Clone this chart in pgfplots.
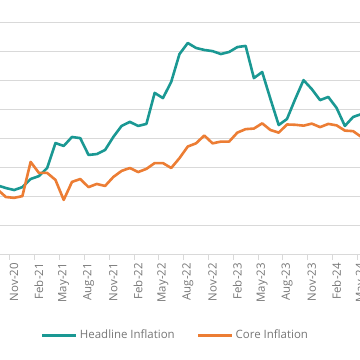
\documentclass[border=0pt]{standalone}
\usepackage{fontspec}
\setmainfont{Open Sans}
\usepackage{pgfplots}
\usepackage{pgfplotstable}
\pgfplotsset{compat=1.18}
\definecolor{teal1}{RGB}{26,152,147}
\definecolor{orange1}{RGB}{236,125,52}
\definecolor{gridc}{RGB}{217,217,217}
\definecolor{txt}{RGB}{118,118,118}
\pgfplotstableread{
i h c
-2 2.40 2.26
-1 2.31 2.00
0 2.24 1.97
1 2.34 2.03
2 2.62 3.21
3 2.72 2.83
4 3.00 2.83
5 3.86 2.59
6 3.76 1.90
7 4.07 2.52
8 4.03 2.62
9 3.45 2.34
10 3.48 2.45
11 3.62 2.38
12 4.07 2.69
13 4.45 2.90
14 4.59 3.00
15 4.45 2.86
16 4.52 2.97
17 5.59 3.17
18 5.41 3.17
19 5.97 3.00
20 6.93 3.34
21 7.31 3.74
22 7.14 3.85
23 7.07 4.12
24 7.03 3.85
25 6.93 3.91
26 7.00 3.91
27 7.17 4.22
28 7.21 4.34
29 6.10 4.36
30 6.31 4.54
31 5.38 4.31
32 4.48 4.22
33 4.69 4.50
34 5.38 4.49
35 6.03 4.46
36 5.72 4.53
37 5.34 4.41
38 5.45 4.52
39 5.07 4.47
40 4.45 4.29
41 4.76 4.27
42 4.86 4.07
}\datatable
\begin{document}
\begin{tikzpicture}
\begin{axis}[
  name=ax,
  width=360bp, height=232bp, scale only axis,
  xmin=-1.705, xmax=41.83, ymin=0, ymax=8,
  axis lines*=left,
  y axis line style={draw=none},
  x axis line style={draw=gridc, line width=1bp},
  ytick={1,...,8}, yticklabels={},
  ymajorgrids, grid style={draw=gridc, line width=1bp},
  xtick={0,3,...,39},
  xticklabels={Nov-20,Feb-21,May-21,Aug-21,Nov-21,Feb-22,May-22,Aug-22,Nov-22,Feb-23,May-23,Aug-23,Nov-23,Feb-24},
  minor xtick={-0.5,2.5,...,41.5},
  major tick length=0pt, minor tick length=5bp,
  tick align=outside,
  tick style={draw=gridc, line width=1bp},
  ytick style={draw=none},
  xticklabel style={rotate=90, anchor=east, inner xsep=8bp, font=\fontsize{11.5}{13}\selectfont, text=txt},
  legend style={at={(0.4875,-0.345)}, anchor=center, draw=none, fill=none,
    font=\fontsize{11.5}{13}\selectfont, text=txt, legend columns=2,
    /tikz/every even column/.append style={column sep=20bp}},
  legend image code/.code={\draw[#1, line width=3bp] (0bp,0bp) -- (34bp,0bp);},
  after end axis/.code={\node[rotate=90, anchor=east, inner xsep=8bp, font=\fontsize{11.5}{13}\selectfont, text=txt] at (axis cs:42,0) {May-24};},
]
\addplot[teal1, line width=2.6bp, line join=round] table[x=i, y=h] {\datatable};
\addlegendentry{Headline Inflation}
\addplot[orange1, line width=2.6bp, line join=round] table[x=i, y=c] {\datatable};
\addlegendentry{Core Inflation}
\end{axis}
\pgfresetboundingbox
\path[use as bounding box] ([yshift=-105bp]ax.south west) rectangle ([yshift=23bp]ax.north east);
\end{tikzpicture}
\end{document}
